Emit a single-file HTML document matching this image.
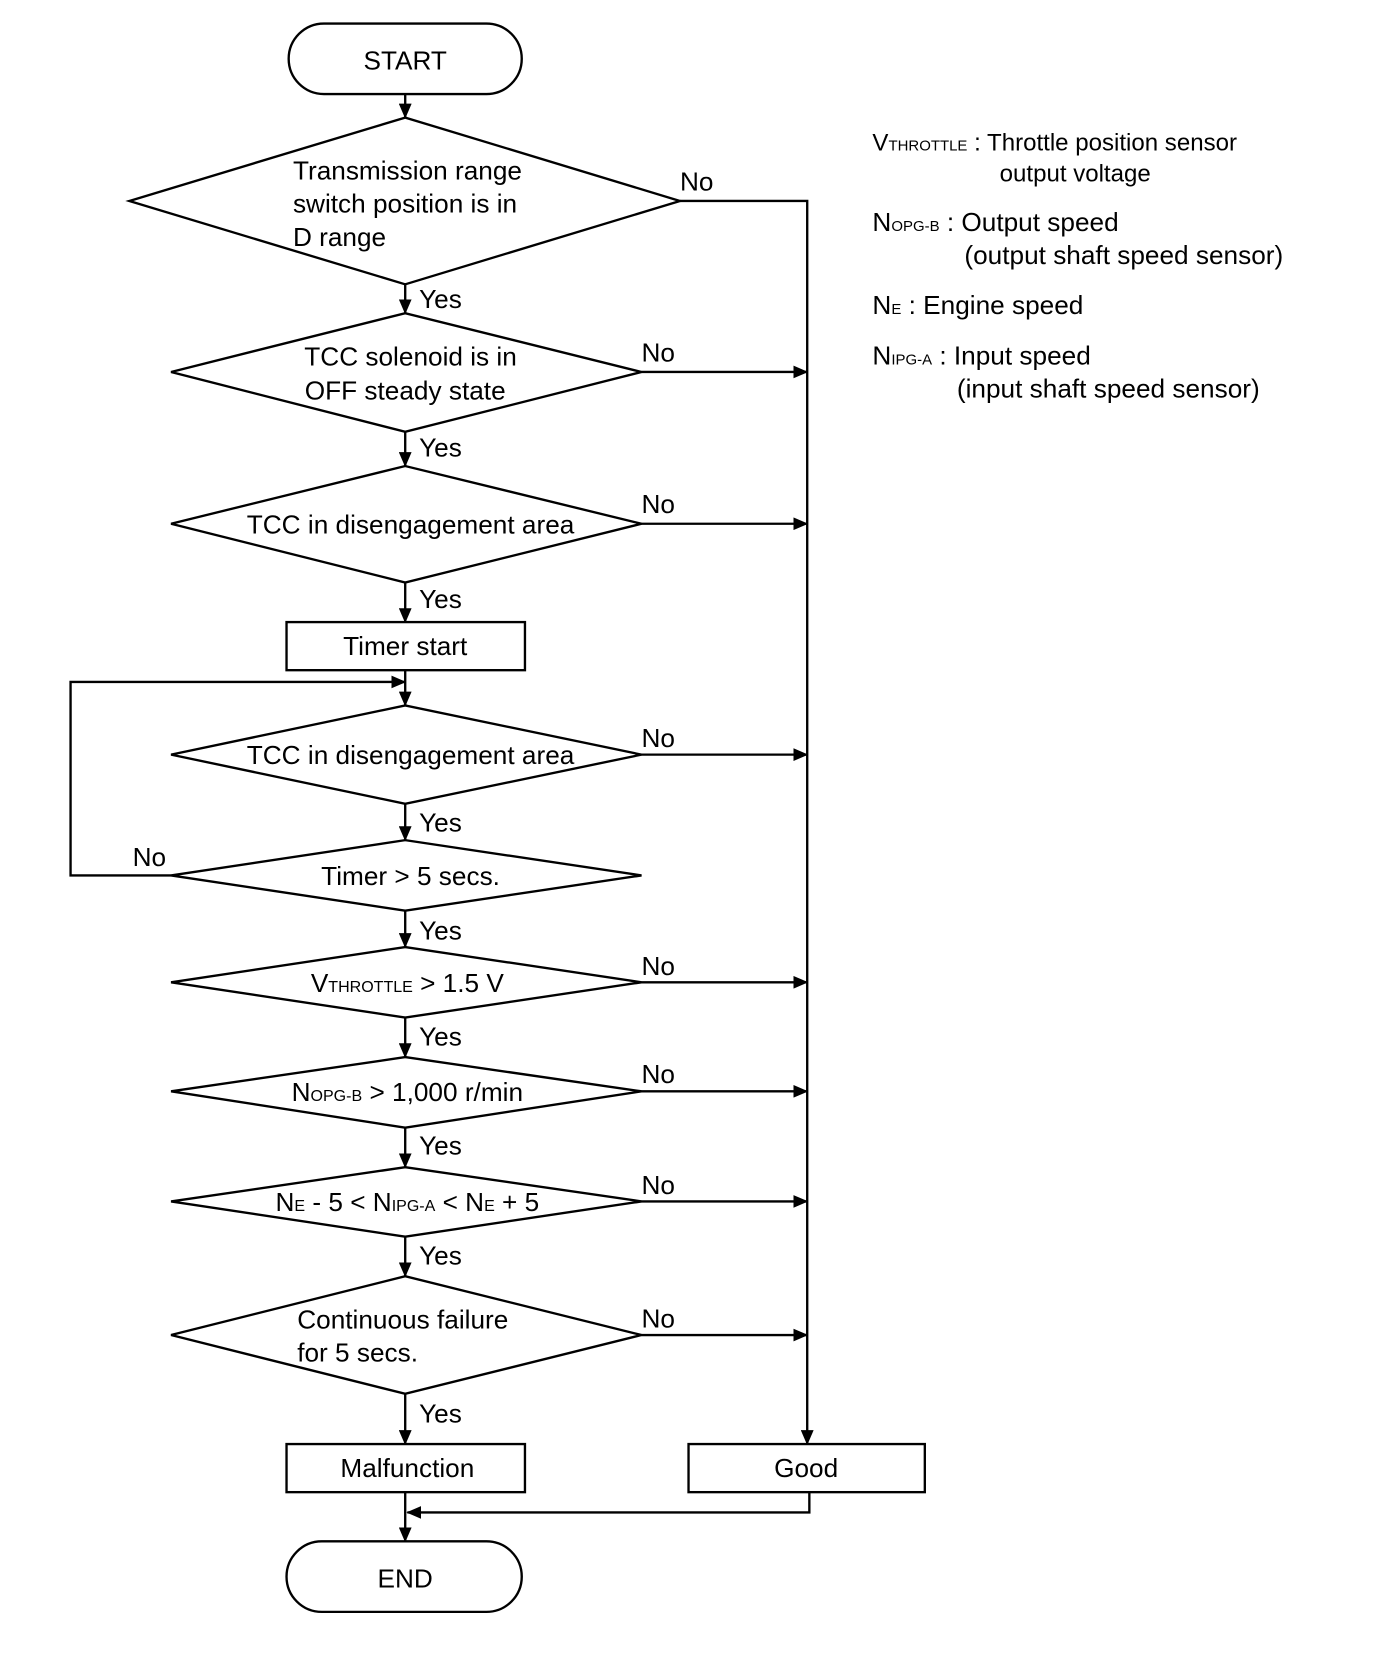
<!DOCTYPE html>
<html><head><meta charset="utf-8"><style>
html,body{margin:0;padding:0;background:#fff;}
svg{display:block;}
text{font-family:"Liberation Sans",Arial,sans-serif;fill:#000;}
</style></head><body>
<svg width="1376" height="1676" viewBox="0 0 1287 1568" preserveAspectRatio="none" xmlns="http://www.w3.org/2000/svg">
<defs><marker id="b" markerWidth="14" markerHeight="12" refX="13" refY="6" orient="auto" markerUnits="userSpaceOnUse"><path d="M0,0 L14,6 L0,12 z" fill="#000"/></marker></defs>
<g stroke="#000" stroke-width="2.2" fill="none">
<rect x="270" y="22" width="218" height="66" rx="33"/>
<rect x="268" y="1442" width="220" height="66" rx="33"/>
<rect x="268" y="582" width="223" height="45"/>
<rect x="268" y="1351" width="223" height="45"/>
<rect x="644" y="1351" width="221" height="45"/>
<polygon points="121,188 379,110 636,188 379,266"/>
<polygon points="160,348 379,293 600,348 379,404"/>
<polygon points="160,490 379,436 600,490 379,545"/>
<polygon points="160,706 379,660 600,706 379,752"/>
<polygon points="160,819 379,786 600,819 379,852"/>
<polygon points="160,919 379,886 600,919 379,952"/>
<polygon points="160,1021 379,989 600,1021 379,1055"/>
<polygon points="160,1124 379,1092 600,1124 379,1157"/>
<polygon points="160,1249 379,1194 600,1249 379,1304"/>
<g marker-end="url(#b)">
<line x1="379" y1="88" x2="379" y2="110"/>
<line x1="379" y1="266" x2="379" y2="293"/>
<line x1="379" y1="404" x2="379" y2="436"/>
<line x1="379" y1="545" x2="379" y2="582"/>
<line x1="379" y1="627" x2="379" y2="660"/>
<line x1="379" y1="752" x2="379" y2="786"/>
<line x1="379" y1="852" x2="379" y2="886"/>
<line x1="379" y1="952" x2="379" y2="989"/>
<line x1="379" y1="1055" x2="379" y2="1092"/>
<line x1="379" y1="1157" x2="379" y2="1194"/>
<line x1="379" y1="1304" x2="379" y2="1351"/>
<line x1="379" y1="1396" x2="379" y2="1442"/>
<polyline points="160,819 66,819 66,638 379,638"/>
<polyline points="636,188 755,188 755,1351"/>
<line x1="600" y1="348" x2="755" y2="348"/>
<line x1="600" y1="490" x2="755" y2="490"/>
<line x1="600" y1="706" x2="755" y2="706"/>
<line x1="600" y1="919" x2="755" y2="919"/>
<line x1="600" y1="1021" x2="755" y2="1021"/>
<line x1="600" y1="1124" x2="755" y2="1124"/>
<line x1="600" y1="1249" x2="755" y2="1249"/>
<polyline points="757,1396 757,1415 381,1415"/>
</g></g>
<g font-size="24.5">
<text x="379" y="65" text-anchor="middle">START</text>
<text x="379" y="1485" text-anchor="middle">END</text>
<text x="379" y="613" text-anchor="middle">Timer start</text>
<text x="381" y="1382" text-anchor="middle">Malfunction</text>
<text x="754" y="1382" text-anchor="middle">Good</text>
<text x="274" y="168">Transmission range</text>
<text x="274" y="199">switch position is in</text>
<text x="274" y="230">D range</text>
<text x="384" y="342" text-anchor="middle">TCC solenoid is in</text>
<text x="379" y="374" text-anchor="middle">OFF steady state</text>
<text x="384" y="499" text-anchor="middle">TCC in disengagement area</text>
<text x="384" y="715" text-anchor="middle">TCC in disengagement area</text>
<text x="384" y="828" text-anchor="middle">Timer &gt; 5 secs.</text>
<text x="381" y="928" text-anchor="middle">V<tspan font-size="15">THROTTLE</tspan> &gt; 1.5 V</text>
<text x="381" y="1030" text-anchor="middle">N<tspan font-size="15">OPG-B</tspan> &gt; 1,000 r/min</text>
<text x="381" y="1133" text-anchor="middle">N<tspan font-size="15">E</tspan> - 5 &lt; N<tspan font-size="15">IPG-A</tspan> &lt; N<tspan font-size="15">E</tspan> + 5</text>
<text x="278" y="1243">Continuous failure</text>
<text x="278" y="1274">for 5 secs.</text>
<text x="392" y="288">Yes</text><text x="392" y="427">Yes</text><text x="392" y="569">Yes</text>
<text x="392" y="778">Yes</text><text x="392" y="879">Yes</text><text x="392" y="978">Yes</text>
<text x="392" y="1080">Yes</text><text x="392" y="1183">Yes</text><text x="392" y="1331">Yes</text>
<text x="636" y="178">No</text><text x="600" y="338">No</text><text x="600" y="480">No</text>
<text x="600" y="699">No</text><text x="124" y="810">No</text><text x="600" y="912">No</text>
<text x="600" y="1013">No</text><text x="600" y="1117">No</text><text x="600" y="1242">No</text>
</g>
<g font-size="22.5">
<text x="816" y="141">V<tspan font-size="14">THROTTLE</tspan> : Throttle position sensor</text>
<text x="935" y="170">output voltage</text>
<text x="816" y="216" font-size="24.5">N<tspan font-size="14">OPG-B</tspan> : Output speed</text>
<text x="902" y="247" font-size="24.5">(output shaft speed sensor)</text>
<text x="816" y="294" font-size="24.5">N<tspan font-size="14">E</tspan> : Engine speed</text>
<text x="816" y="341" font-size="24.5">N<tspan font-size="14">IPG-A</tspan> : Input speed</text>
<text x="895" y="372" font-size="24.5">(input shaft speed sensor)</text>
</g>
</svg>
</body></html>
